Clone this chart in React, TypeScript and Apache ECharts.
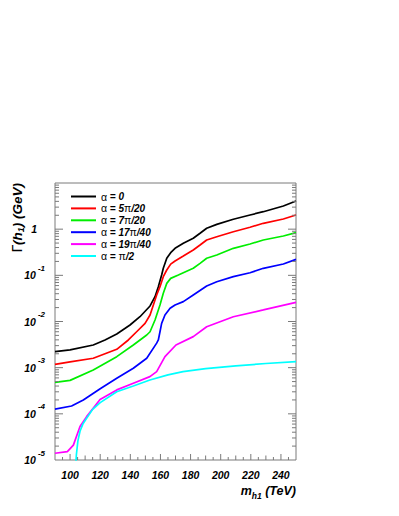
import React, { useEffect, useRef } from "react";
import * as echarts from "echarts";

// ---- data (m_h1 in TeV, Γ(h1) in GeV) ----
const seriesNames = ["α = 0", "α = 5π/20", "α = 7π/20", "α = 17π/40", "α = 19π/40", "α = π/2"];
const seriesColors = ["#000000", "#ff0000", "#00ee00", "#0000ff", "#ff00ff", "#00ffff"];

const mA0 = [90, 100, 115.4, 123.2, 131, 139.8, 146.4, 153.1, 156.4, 158.6, 160.8, 161.9, 164.2, 166.8, 169.7, 175.2, 181.8, 186.3, 190.7, 197.4, 208.4, 219.5, 228.3, 241.6, 250];
const gA0 = [2.22e-3, 2.42e-3, 3.1e-3, 3.98e-3, 5.36e-3, 8.4e-3, 0.0127, 0.0217, 0.0345, 0.0568, 0.1016, 0.142, 0.234, 0.31, 0.385, 0.494, 0.634, 0.814, 1.045, 1.27, 1.64, 2.03, 2.39, 3.17, 4.07];

const mA1 = [90, 100, 115.4, 131, 138.7, 144.2, 149.8, 153.1, 155.3, 157.5, 159.7, 161.9, 164.2, 166.8, 169.7, 175.2, 181.8, 186.3, 190.7, 197.4, 208.4, 219.5, 228.3, 241.6, 250];
const gA1 = [1.18e-3, 1.33e-3, 1.6e-3, 2.5e-3, 3.98e-3, 6.0e-3, 9.1e-3, 0.0138, 0.0228, 0.0375, 0.0568, 0.0935, 0.1305, 0.175, 0.205, 0.262, 0.354, 0.454, 0.582, 0.687, 0.881, 1.1, 1.34, 1.66, 2.03];

const mA2 = [90, 100, 115.4, 131, 142, 150.9, 153.1, 156.4, 159.7, 161.9, 164.2, 166.8, 171.9, 175.2, 181.8, 186.3, 190.7, 197.4, 208.4, 219.5, 228.3, 241.6, 250];
const gA2 = [4.8e-4, 5.3e-4, 8.9e-4, 1.73e-3, 3.1e-3, 5.1e-3, 6.0e-3, 0.0108, 0.0228, 0.041, 0.067, 0.086, 0.102, 0.114, 0.142, 0.182, 0.234, 0.276, 0.385, 0.477, 0.582, 0.711, 0.84];

const mA3 = [90, 101, 108.8, 120, 131, 142, 150.9, 157.5, 158.6, 159.7, 160.8, 163, 166.4, 169.7, 175.2, 181.8, 190.7, 197.4, 208.4, 219.5, 228.3, 241.6, 250];
const gA3 = [1.26e-4, 1.48e-4, 2.0e-4, 3.5e-4, 5.9e-4, 9.7e-4, 1.6e-3, 3.4e-3, 3.98e-3, 6.0e-3, 9.1e-3, 0.0138, 0.0193, 0.0228, 0.0269, 0.0375, 0.0588, 0.0728, 0.0935, 0.114, 0.142, 0.176, 0.222];

const mA4 = [90, 98.2, 102.2, 106.6, 111, 119.9, 131, 142, 153, 157.5, 163, 170.3, 181.8, 190.7, 208.4, 228.3, 250];
const gA4 = [1.4e-5, 1.52e-5, 2.1e-5, 5.3e-5, 8.7e-5, 2.05e-4, 3.3e-4, 4.6e-4, 6.4e-4, 8.2e-4, 1.73e-3, 3.1e-3, 4.7e-3, 7.7e-3, 0.0127, 0.0178, 0.026];

const mA5 = [103.4, 104.2, 105.2, 106.6, 108.5, 111, 115, 120, 131, 142, 153, 165, 175, 190, 210, 230, 250];
const gA5 = [5e-6, 1.3e-5, 2.6e-5, 4.2e-5, 6e-5, 8e-5, 1.25e-4, 1.75e-4, 3.0e-4, 4.0e-4, 5.4e-4, 7e-4, 8.2e-4, 9.5e-4, 1.09e-3, 1.23e-3, 1.35e-3];

const mValues = [mA0, mA1, mA2, mA3, mA4, mA5];
const gValues = [gA0, gA1, gA2, gA3, gA4, gA5];

// axis ticks
const xTickValues = [90, 95, 100, 105, 110, 115, 120, 125, 130, 135, 140, 145, 150, 155, 160, 165, 170, 175, 180, 185, 190, 195, 200, 205, 210, 215, 220, 225, 230, 235, 240, 245, 250];
const yDecades = [1e-5, 1e-4, 1e-3, 1e-2, 1e-1, 1, 10];
const yMinorMultipliers = [2, 3, 4, 5, 6, 7, 8, 9];

const X_MIN = 90;
const X_MAX = 250;
const Y_MIN = 1e-5;
const Y_MAX = 10;

const FONT = "'Liberation Sans', Arial, Helvetica, sans-serif";

export default function App() {
  const ref = useRef<HTMLDivElement>(null);

  useEffect(() => {
    if (!ref.current) return;
    const chart = echarts.init(ref.current, null, { renderer: "svg" });

    // tick marks: [x, y, length, direction] ; 0 = left edge, 1 = right edge, 2 = bottom edge
    const tickData: number[][] = [];
    yDecades.forEach((d) => {
      if (d > Y_MIN && d < Y_MAX) {
        tickData.push([X_MIN, d, 8, 0]);
        tickData.push([X_MAX, d, 8, 1]);
      }
      if (d < Y_MAX) {
        yMinorMultipliers.forEach((k) => {
          tickData.push([X_MIN, d * k, 4, 0]);
          tickData.push([X_MAX, d * k, 4, 1]);
        });
      }
    });
    xTickValues.forEach((v) => {
      if (v > X_MIN && v < X_MAX) {
        const len = v % 20 === 0 ? 6 : v % 10 === 0 ? 4.5 : 3;
        tickData.push([v, Y_MIN, len, 2]);
      }
    });

    const lineSeries = seriesNames.map((name, i) => ({
      name,
      type: "line",
      data: mValues[i].map((m, j) => [m, gValues[i][j]]),
      showSymbol: false,
      symbol: "none",
      smooth: false,
      clip: true,
      lineStyle: { color: seriesColors[i], width: 1.7 },
      itemStyle: { color: seriesColors[i] },
      z: 3,
    }));

    const greekRich = {
      g: { fontFamily: "'Liberation Sans', sans-serif", fontSize: 10.5, fontWeight: "normal", fontStyle: "normal", color: "#000", lineHeight: 11 },
      t: { fontFamily: FONT, fontSize: 10, fontWeight: "bold", fontStyle: "italic", color: "#000", lineHeight: 11 },
    };

    const option: any = {
      animation: false,
      backgroundColor: "#ffffff",
      grid: {
        left: 55,
        top: 183,
        right: 103,
        bottom: 56,
        show: true,
        borderColor: "#7a7a7a",
        borderWidth: 1,
        backgroundColor: "transparent",
      },
      legend: {
        data: seriesNames,
        orient: "vertical",
        left: 71,
        top: 191,
        itemWidth: 25,
        itemHeight: 2,
        itemGap: 0.9,
        icon: "rect",
        selectedMode: false,
        padding: 0,
        formatter: (name: string) =>
          name
            .split(/([απ])/)
            .filter((s) => s.length > 0)
            .map((s) => (s === "α" || s === "π" ? `{g|${s}}` : `{t|${s}}`))
            .join(""),
        textStyle: { rich: greekRich },
      },
      xAxis: {
        type: "value",
        min: X_MIN,
        max: X_MAX,
        interval: 10,
        axisLine: { show: false },
        axisTick: { show: false },
        splitLine: { show: false },
        axisLabel: {
          margin: 9,
          fontFamily: FONT,
          fontSize: 10.5,
          fontWeight: "bold",
          fontStyle: "italic",
          color: "#000",
          formatter: (v: number) => (v % 20 === 0 ? String(v) : ""),
        },
      },
      yAxis: {
        type: "log",
        logBase: 10,
        min: Y_MIN,
        max: Y_MAX,
        splitNumber: 6,
        axisLine: { show: false },
        axisTick: { show: false },
        splitLine: { show: false },
        axisLabel: {
          margin: 10,
          formatter: (v: number) => {
            const e = Math.round(Math.log10(v));
            if (e >= 1) return "";
            if (e === 0) return "{o|1}";
            return `{b|10}{s|${e}}`;
          },
          rich: {
            b: { fontFamily: FONT, fontSize: 10.5, fontWeight: "bold", fontStyle: "italic", color: "#000", lineHeight: 22 },
            o: { fontFamily: FONT, fontSize: 10.5, fontWeight: "bold", fontStyle: "italic", color: "#000", lineHeight: 22, padding: [0, 8, 0, 0] },
            s: { fontFamily: FONT, fontSize: 8, fontWeight: "bold", fontStyle: "italic", color: "#000", lineHeight: 8, verticalAlign: "top", padding: [0, 0, 0, 2] },
          },
        },
      },
      graphic: [
        {
          type: "text",
          right: 103,
          top: 484,
          style: {
            text: "{m|m}{sub|h1}{t| (TeV)}",
            rich: {
              m: { fontFamily: FONT, fontSize: 12.5, fontWeight: "bold", fontStyle: "italic", fill: "#000", lineHeight: 20, verticalAlign: "middle" },
              sub: { fontFamily: FONT, fontSize: 8.5, fontWeight: "bold", fontStyle: "italic", fill: "#000", lineHeight: 13, verticalAlign: "bottom" },
              t: { fontFamily: FONT, fontSize: 12.5, fontWeight: "bold", fontStyle: "italic", fill: "#000", lineHeight: 20, verticalAlign: "middle" },
            },
          },
        },
        {
          type: "text",
          x: 9,
          y: 183,
          rotation: Math.PI / 2,
          style: {
            text: "{g|Γ}{t|(h}{sub|1}{t|) (GeV)}",
            align: "right",
            verticalAlign: "top",
            rich: {
              g: { fontFamily: "'DejaVu Sans', sans-serif", fontSize: 13.5, fill: "#000", lineHeight: 16 },
              t: { fontFamily: FONT, fontSize: 13.5, fontWeight: "bold", fontStyle: "italic", fill: "#000", lineHeight: 16 },
              sub: { fontFamily: FONT, fontSize: 9, fontWeight: "bold", fontStyle: "italic", fill: "#000", lineHeight: 10, verticalAlign: "bottom" },
            },
          },
        },
      ],
      series: [
        ...lineSeries,
        {
          type: "custom",
          name: "ticks",
          silent: true,
          clip: false,
          z: 5,
          data: tickData,
          renderItem: (_params: any, api: any) => {
            const x = api.value(0);
            const y = api.value(1);
            const len = api.value(2);
            const dir = api.value(3);
            const p = api.coord([x, y]);
            let x2 = p[0];
            let y2 = p[1];
            if (dir === 0) x2 += len;
            else if (dir === 1) x2 -= len;
            else y2 -= len;
            return {
              type: "line",
              shape: { x1: p[0], y1: p[1], x2, y2 },
              style: { stroke: "#7a7a7a", lineWidth: 1 },
            };
          },
        },
      ],
    };

    chart.setOption(option);
    return () => chart.dispose();
  }, []);

  return (
    <div
      ref={ref}
      style={{ position: "absolute", left: 0, top: 0, width: 399, height: 516, background: "#fff" }}
    />
  );
}
